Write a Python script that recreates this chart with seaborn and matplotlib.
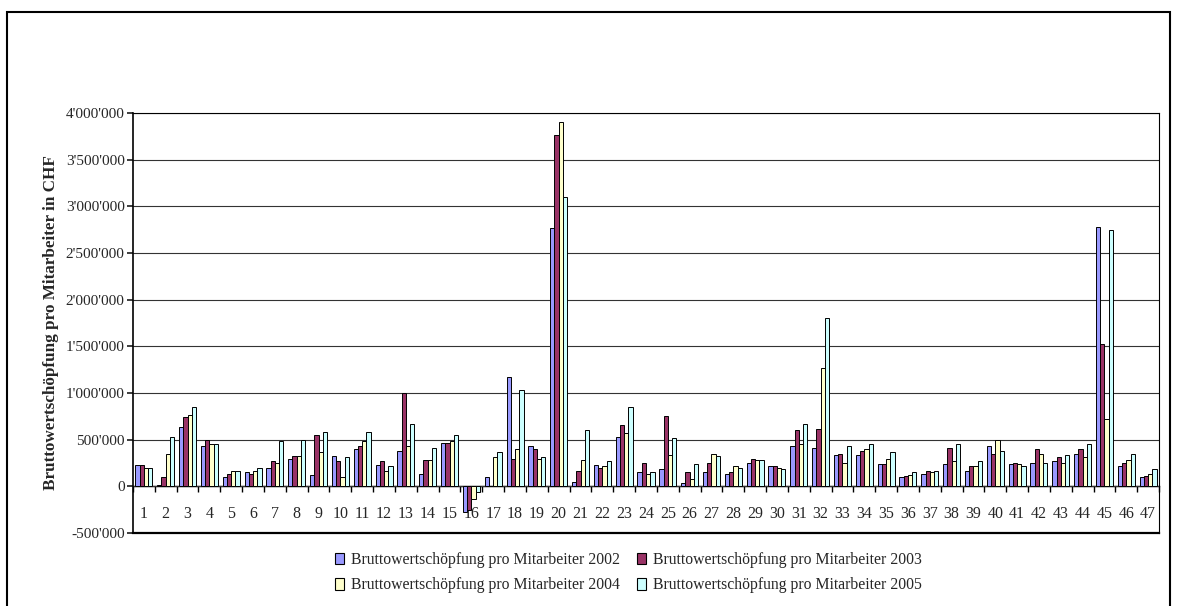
import pandas as pd
import matplotlib.pyplot as plt
import seaborn as sns
import numpy as np
from matplotlib.ticker import FuncFormatter
from matplotlib.patches import Rectangle, Patch

sns.set_theme(style="white")
plt.rcParams['font.family'] = ['Liberation Serif', 'DejaVu Serif']

# Daten
categories = [str(i) for i in range(1, 48)]
years = ['2002', '2003', '2004', '2005']
bws_2002 = [230e3, 18e3, 635e3, 436e3, 99e3, 149e3, 199e3, 298e3, 117e3, 330e3,
            401e3, 230e3, 383e3, 131e3, 468e3, -280e3, 99e3, 1170e3, 433e3, 2766e3,
            50e3, 230e3, 532e3, 149e3, 181e3, 32e3, 149e3, 131e3, 248e3, 216e3,
            433e3, 415e3, 333e3, 333e3, 234e3, 99e3, 131e3, 234e3, 167e3, 433e3,
            234e3, 248e3, 266e3, 348e3, 2780e3, 216e3, 99e3]
bws_2003 = [230e3, 99e3, 748e3, 500e3, 131e3, 131e3, 266e3, 330e3, 550e3, 266e3,
            433e3, 266e3, 1000e3, 284e3, 468e3, -255e3, 0, 298e3, 401e3, 3762e3,
            167e3, 199e3, 652e3, 248e3, 752e3, 149e3, 248e3, 149e3, 298e3, 216e3,
            603e3, 617e3, 348e3, 383e3, 234e3, 113e3, 163e3, 415e3, 216e3, 348e3,
            248e3, 401e3, 316e3, 401e3, 1521e3, 248e3, 113e3]
bws_2004 = [199e3, 348e3, 766e3, 450e3, 163e3, 163e3, 248e3, 330e3, 365e3, 99e3,
            482e3, 163e3, 433e3, 284e3, 482e3, -131e3, 316e3, 401e3, 298e3, 3905e3,
            284e3, 216e3, 567e3, 131e3, 333e3, 82e3, 348e3, 216e3, 284e3, 199e3,
            450e3, 1273e3, 248e3, 401e3, 298e3, 124e3, 149e3, 266e3, 216e3, 500e3,
            234e3, 348e3, 248e3, 316e3, 716e3, 284e3, 131e3]
bws_2005 = [199e3, 532e3, 851e3, 450e3, 163e3, 199e3, 482e3, 500e3, 585e3, 316e3,
            585e3, 216e3, 667e3, 415e3, 550e3, -60e3, 365e3, 1032e3, 316e3, 3096e3,
            603e3, 266e3, 851e3, 149e3, 518e3, 234e3, 330e3, 199e3, 284e3, 184e3,
            667e3, 1800e3, 433e3, 450e3, 365e3, 149e3, 163e3, 450e3, 266e3, 383e3,
            216e3, 248e3, 333e3, 450e3, 2745e3, 348e3, 184e3]
colors = ['#9999FF', '#993366', '#FFFFCC', '#CCFFFF']

label = 'Bruttowertschöpfung pro Mitarbeiter '
df = pd.DataFrame({
    'Kategorie': categories * 4,
    'Jahr': [label + y for y in years for _ in categories],
    'Wert': bws_2002 + bws_2003 + bws_2004 + bws_2005,
})
hue_order = [label + y for y in years]

fig = plt.figure(figsize=(11.77, 6.06), dpi=100)
ax = fig.add_axes([0.113, 0.1205, 0.8717, 0.693])

sns.barplot(data=df, x='Kategorie', y='Wert', hue='Jahr', order=categories,
            hue_order=hue_order, palette=colors, width=0.78, edgecolor='black',
            linewidth=0.7, saturation=1, legend=False, ax=ax, zorder=3)

ax.set_ylim(-500000, 4000000)
ax.set_xlim(-0.5, len(categories) - 0.5)
ax.set_yticks(np.arange(-500000, 4000001, 500000))
ax.yaxis.set_major_formatter(FuncFormatter(lambda v, p: f"{v:,.0f}".replace(",", "'")))
ax.yaxis.grid(True, color='#333333', linewidth=0.8, zorder=0)
ax.tick_params(axis='y', labelsize=11, length=4, direction='out', left=True, pad=2)
ax.set_xticks([])
ax.set_xlabel('')
ax.set_ylabel('Bruttowertschöpfung pro Mitarbeiter in CHF', fontsize=12.3,
              fontweight='bold', labelpad=5)
for s in ax.spines.values():
    s.set_color('black')
    s.set_linewidth(0.8)
ax.spines['left'].set_linewidth(1.2)
ax.spines['bottom'].set_linewidth(1.6)

# Kategorienachse bei 0
sec = ax.secondary_xaxis(500000 / 4500000)
sec.set_xticks(range(len(categories)))
sec.set_xticklabels(categories)
sec.set_xticks(np.arange(-0.5, len(categories)), minor=True)
sec.tick_params(axis='x', which='major', length=0, labelsize=11.5, pad=14)
sec.tick_params(axis='x', which='minor', length=4, direction='out', color='black')
sec.spines['bottom'].set_color('black')
sec.spines['bottom'].set_linewidth(1.0)

handles = [Patch(facecolor=c, edgecolor='black', linewidth=0.8) for c in colors]
order = [0, 2, 1, 3]
ax.legend([handles[i] for i in order], [hue_order[i] for i in order], ncol=2,
          loc='upper left', bbox_to_anchor=(335 / 1177, 1 - 552 / 606),
          bbox_transform=fig.transFigure, borderaxespad=0, borderpad=0,
          frameon=False, fontsize=11.3, handlelength=0.55, handleheight=0.75,
          handletextpad=0.45, columnspacing=1.1, labelspacing=0.6)

fig.patches.append(Rectangle((7 / 1177, -5 / 606), 1163 / 1177, 599 / 606,
                             transform=fig.transFigure, fill=False,
                             edgecolor='black', linewidth=1.5))

fig.savefig('out.png', dpi=100)
